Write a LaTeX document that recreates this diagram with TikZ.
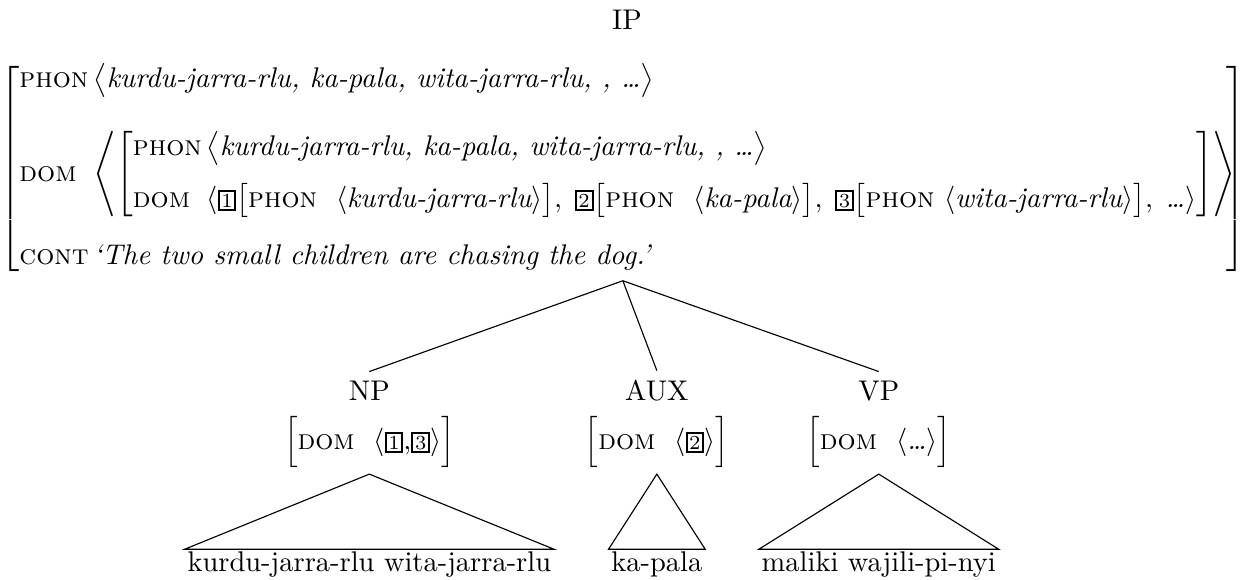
\documentclass[tikz,border=0pt]{standalone}
\usepackage{amsmath}
\usetikzlibrary{positioning,calc}

\newcommand{\tagn}[1]{{\setlength{\fboxsep}{0.6pt}\setlength{\fboxrule}{0.7pt}\fbox{\scriptsize #1}}}
\newcommand{\ft}[1]{\textsc{#1}}

\begin{document}
\begin{tikzpicture}[node distance=0.3cm,
  cat/.style={inner sep=3pt},
  avm/.style={inner sep=2pt},
  leaf/.style={inner sep=0pt, outer sep=1pt}]
\useasboundingbox (0,0) rectangle (15.31,-7.15);
\node[cat, anchor=base] (ip) at (7.74,-0.37) {IP};
\node[avm, anchor=north] (ipavm) at (7.69,-0.70) {$\left[\begin{array}{@{}l@{\,}l@{}}
 \ft{phon} & \bigl\langle\textit{kurdu-jarra-rlu, ka-pala, wita-jarra-rlu, , \dots}\bigr\rangle \\[12pt]
 \ft{dom} & \left\langle\left[\begin{array}{@{}l@{\,}l@{}}
   \ft{phon} & \bigl\langle\textit{kurdu-jarra-rlu, ka-pala, wita-jarra-rlu, , \dots}\bigr\rangle \\[6pt]
   \ft{dom} & \langle\tagn{1}\bigl[\ft{phon}\ \ \langle\textit{kurdu-jarra-rlu}\rangle\bigr],\;\tagn{2}\bigl[\ft{phon}\ \ \langle\textit{ka-pala}\rangle\bigr],\;\tagn{3}\bigl[\ft{phon}\ \langle\textit{wita-jarra-rlu}\rangle\bigr],\;\textit{\dots}\rangle
 \end{array}\right]\right\rangle\!\! \\[17pt]
 \ft{cont} & \textit{`The two small children are chasing the dog.'}
\end{array}\right]$};
% daughters
\node[cat, anchor=base] (np) at (4.56,-4.94) {NP};
\node[cat, anchor=base] (aux) at (8.11,-4.94) {AUX};
\node[cat, anchor=base] (vp) at (10.85,-4.94) {VP};
\node[avm] (npavm) at (4.56,-5.46) {$\Bigl[\ft{dom}\ \ \langle\tagn{1}{,}\tagn{3}\rangle\Bigr]$};
\node[avm] (auxavm) at (8.11,-5.46) {$\Bigl[\ft{dom}\ \ \langle\tagn{2}\rangle\Bigr]$};
\node[avm] (vpavm) at (10.85,-5.46) {$\Bigl[\ft{dom}\ \ \langle\textit{\dots}\rangle\Bigr]$};
\node[leaf, anchor=base] (npleaf) at (4.56,-7.06) {kurdu-jarra-rlu wita-jarra-rlu};
\node[leaf, anchor=base] (auxleaf) at (8.11,-7.06) {ka-pala};
\node[leaf, anchor=base] (vpleaf) at (10.85,-7.06) {maliki wajili-pi-nyi};
\draw (ipavm.south) -- (np.north);
\draw (ipavm.south) -- (aux.north);
\draw (ipavm.south) -- (vp.north);
\draw (npavm.south) -- (npleaf.north west) -- (npleaf.north east) -- cycle;
\draw (auxavm.south) -- (auxleaf.north west) -- (auxleaf.north east) -- cycle;
\draw (vpavm.south) -- (vpleaf.north west) -- (vpleaf.north east) -- cycle;
\end{tikzpicture}
\end{document}
